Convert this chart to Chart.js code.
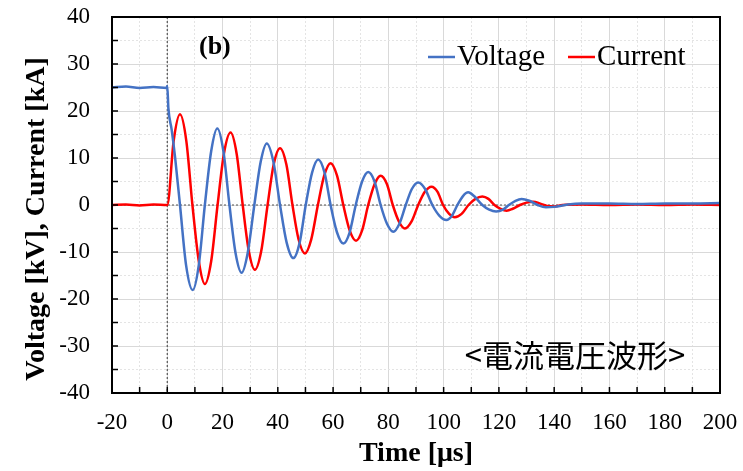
<!DOCTYPE html>
<html>
<head>
<meta charset="utf-8">
<script src="https://cdn.jsdelivr.net/npm/chart.js@4.4.0/dist/chart.umd.min.js"></script>
<style>
  html, body { margin: 0; padding: 0; background: #fff; }
</style>
</head>
<body>
<canvas id="waveChart" width="743" height="471"></canvas>
<script>
// (time in µs)
const voltageTime = [-20, -15, -10, -5, -0.3, 0, 0.4, 1.6, 2.8, 4.6, 6.8, 9.2, 11.4, 13.6, 15.9, 18.1, 20.3, 22.5, 24.7, 26.9,
  29.1, 31.5, 33.8, 36, 38.4, 40.8, 43.2, 45.6, 47.9, 50.1, 52.4, 54.6, 56.9, 59.1, 61.4, 63.7, 66, 68.2, 70.5, 72.7,
  75, 77.2, 79.5, 81.8, 84, 86.3, 88.5, 90.8, 93.3, 95.9, 98.5, 101, 103, 105, 107, 108.9, 111, 114, 116.5, 119,
  121.5, 123.6, 126, 128.2, 131, 134, 137, 140, 145, 150, 160, 170, 180, 190, 200];
const voltageKV = [25.0, 25.2, 24.9, 25.1, 24.9, 25.3, 20.6, 16, 10.3, 0, -12.8, -18.1, -12.8, 0, 11.5, 16.3, 11.5, 0, -10.2, -14.4,
  -10.2, 0, 9.2, 13.1, 9.2, 0, -8, -11.3, -8, 0, 6.9, 9.7, 6.9, 0, -5.8, -8.2, -5.8, 0, 5, 7.0,
  5, 0, -4, -5.7, -4, 0, 3.4, 4.8, 3.4, 0, -2.3, -3.2, -2.3, 0, 1.9, 2.7, 1.9, 0, -1, -1.4,
  -1, 0, 0.9, 1.3, 0.9, 0, -0.5, -0.4, 0.1, 0.3, 0.3, 0.2, 0.3, 0.3, 0.4];

const currentTime = [-20, -15, -10, -5, 0, 2.3, 4.6, 6.9, 9.1, 11.4, 13.6, 15.9, 18.2, 20.5, 22.9, 25.1, 27.3, 29.5, 31.7, 34,
  36.3, 38.5, 40.8, 43.1, 45.3, 47.5, 49.8, 52.1, 54.5, 56.8, 59.1, 61.4, 63.7, 66, 68.3, 70.5, 72.7, 75, 77.2, 79.5,
  81.6, 83.8, 86, 88.4, 90.8, 93.2, 95.6, 97.8, 99.8, 102, 104, 106.5, 109, 111.5, 114, 116.2, 118.4, 120.6, 122.8, 125,
  127.6, 130, 132.4, 135, 137.5, 140, 143, 150, 160, 170, 180, 190, 200];
const currentKA = [0, 0.1, -0.1, 0.1, 0, 13.6, 19.3, 13.6, 0, -11.9, -16.8, -11.9, 0, 10.9, 15.4, 10.9, 0, -9.8, -13.8, -9.8,
  0, 8.6, 12.1, 8.6, 0, -7.3, -10.3, -7.3, 0, 6.3, 8.9, 6.3, 0, -5.4, -7.6, -5.4, 0, 4.4, 6.2, 4.4,
  0, -3.5, -5.0, -3.5, 0, 2.8, 3.9, 2.8, 0, -1.9, -2.6, -1.9, 0, 1.3, 1.8, 1.3, 0, -0.8, -1.2, -0.8,
  0, 0.5, 0.7, 0.3, -0.2, -0.3, 0, 0.1, 0, 0.1, 0, 0.1, 0];

const seriesNames = ['Voltage', 'Current'];
const xRange = [-20, 200];
const yRange = [-40, 40];
const panelTag = '(b)';
const noteText = '<電流電圧波形>';

const serif = 'Liberation Serif';

function toPoints(xs, ys) {
  return xs.map((t, i) => ({x: t, y: ys[i]}));
}

// pin the axis boxes so the plot area sits where it does in the figure
function pinScale(size) {
  return s => {
    if (s.isHorizontal()) s.height = size; else s.width = size;
    s.paddingLeft = s.paddingRight = s.paddingTop = s.paddingBottom = 0;
  };
}

const decor = {
  id: 'decor',
  beforeDatasetsDraw(chart) {
    const {ctx, chartArea: a, scales: {x, y}} = chart;
    ctx.save();
    ctx.strokeStyle = '#555';
    ctx.lineWidth = 1.2;
    ctx.setLineDash([2, 2]);
    const x0 = x.getPixelForValue(0);
    const y0 = y.getPixelForValue(0);
    ctx.beginPath();
    ctx.moveTo(x0, a.top); ctx.lineTo(x0, a.bottom);
    ctx.moveTo(a.left, y0); ctx.lineTo(a.right, y0);
    ctx.stroke();
    ctx.restore();
  },
  afterDatasetsDraw(chart) {
    const {ctx, chartArea: a, scales: {x, y}} = chart;
    ctx.save();
    // frame
    ctx.strokeStyle = '#000';
    ctx.lineWidth = 2;
    ctx.strokeRect(a.left, a.top, a.right - a.left, a.bottom - a.top);
    // inside tick marks
    ctx.lineWidth = 1.5;
    ctx.beginPath();
    for (let v = xRange[0] + 10; v < xRange[1]; v += 10) {
      const px = x.getPixelForValue(v);
      ctx.moveTo(px, a.bottom); ctx.lineTo(px, a.bottom - 6);
    }
    for (let v = yRange[0] + 5; v < yRange[1]; v += 5) {
      const py = y.getPixelForValue(v);
      ctx.moveTo(a.left, py); ctx.lineTo(a.left + 6, py);
    }
    ctx.stroke();

    // legend
    const legendX = [428, 568];
    ctx.font = '29px "' + serif + '"';
    ctx.textBaseline = 'middle';
    ctx.textAlign = 'left';
    chart.data.datasets.forEach((ds, i) => {
      ctx.strokeStyle = ds.borderColor;
      ctx.lineWidth = 2.5;
      ctx.beginPath();
      ctx.moveTo(legendX[i], 57); ctx.lineTo(legendX[i] + 27, 57);
      ctx.stroke();
      ctx.fillStyle = '#000';
      ctx.fillText(ds.label, legendX[i] + 29, 57);
    });

    // panel tag and note
    ctx.font = 'bold 26px "' + serif + '"';
    ctx.fillText(panelTag, 199, 47);
    ctx.font = '31px "Noto Sans CJK JP"';
    ctx.textAlign = 'center';
    ctx.fillText(noteText, 575, 355);
    ctx.restore();
  }
};

const ctx = document.getElementById('waveChart');
new Chart(ctx, {
  type: 'line',
  data: {
    datasets: [
      {
        label: seriesNames[0],
        data: toPoints(voltageTime, voltageKV),
        borderColor: '#4472C4',
        borderWidth: 2.5,
        pointRadius: 0,
        cubicInterpolationMode: 'monotone'
      },
      {
        label: seriesNames[1],
        data: toPoints(currentTime, currentKA),
        borderColor: '#FF0000',
        borderWidth: 2.5,
        pointRadius: 0,
        cubicInterpolationMode: 'monotone'
      }
    ]
  },
  options: {
    responsive: false,
    animation: false,
    layout: { autoPadding: false, padding: { top: 17, right: 23, left: 0, bottom: 0 } },
    plugins: { legend: { display: false }, tooltip: { enabled: false } },
    scales: {
      x: {
        type: 'linear',
        min: xRange[0], max: xRange[1],
        ticks: { stepSize: 20, color: '#000', padding: 16, maxRotation: 0,
                 font: { family: serif, size: 23 } },
        grid: { color: '#d9d9d9', drawTicks: false },
        border: { display: false },
        title: { display: true, text: 'Time [μs]', color: '#000',
                 padding: { top: 0, bottom: 0 },
                 font: { family: serif, size: 28, weight: 'bold' } },
        afterFit: pinScale(78)
      },
      xm: {
        type: 'linear', position: 'bottom',
        min: xRange[0], max: xRange[1],
        ticks: { stepSize: 10, display: false },
        grid: { drawTicks: false,
                color: c => (c.tick && c.tick.value % 20 === 0) ? 'rgba(0,0,0,0)' : '#e4e4e4' },
        border: { display: false, dash: [2, 2] },
        afterFit: pinScale(0)
      },
      y: {
        min: yRange[0], max: yRange[1],
        ticks: { stepSize: 10, color: '#000', padding: 22,
                 font: { family: serif, size: 23 } },
        grid: { color: '#d9d9d9', drawTicks: false },
        border: { display: false },
        title: { display: true, text: 'Voltage [kV], Current [kA]\u00a0\u00a0\u00a0\u00a0', color: '#000',
                 padding: { top: 20, bottom: 0 },
                 font: { family: serif, size: 28, weight: 'bold' } },
        afterFit: pinScale(112)
      },
      ym: {
        type: 'linear', position: 'left',
        min: yRange[0], max: yRange[1],
        ticks: { stepSize: 5, display: false },
        grid: { drawTicks: false,
                color: c => (c.tick && c.tick.value % 10 === 0) ? 'rgba(0,0,0,0)' : '#e4e4e4' },
        border: { display: false, dash: [2, 2] },
        afterFit: pinScale(0)
      }
    }
  },
  plugins: [decor]
});
</script>
</body>
</html>
